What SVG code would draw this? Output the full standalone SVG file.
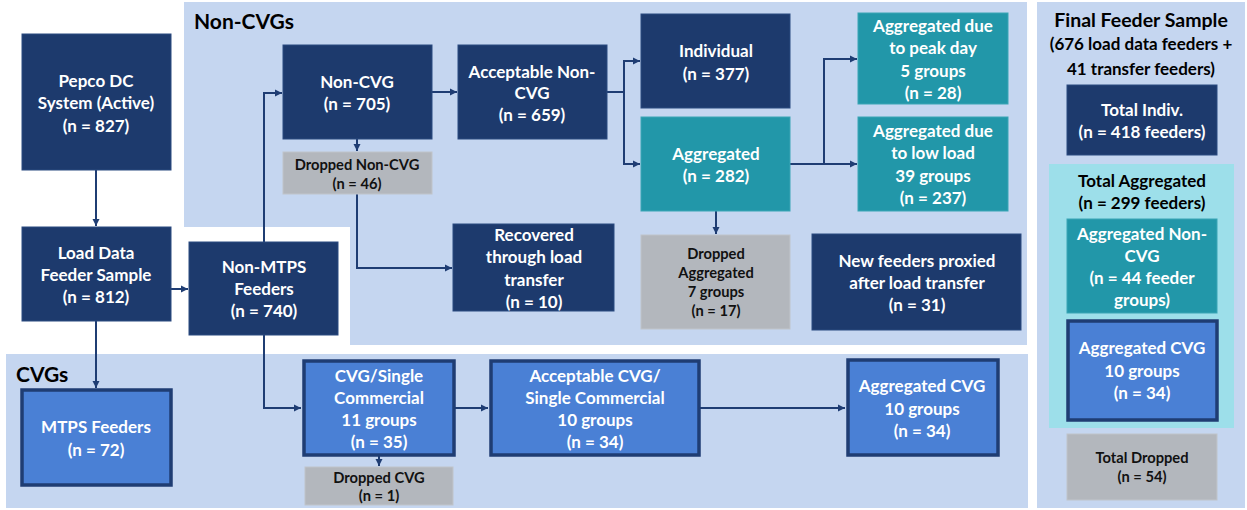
<svg xmlns="http://www.w3.org/2000/svg" width="1247" height="510" viewBox="0 0 1247 510">
<defs>
<marker id="ah" markerWidth="8" markerHeight="8" refX="7" refY="4" orient="auto" markerUnits="userSpaceOnUse">
<path d="M0,0.5 L7,4 L0,7.5 Z" fill="#1f3d73"/>
</marker>
<style>
.panel{fill:#c5d6f0}
.dark{fill:#1d3a6d;stroke:#2b4a80;stroke-width:1}
.teal{fill:#2297a9;stroke:#3aa5b5;stroke-width:1}
.blue{fill:#4a80d5;stroke:#1f3d73;stroke-width:3.5}
.gray{fill:#b3b7bd;stroke:#c0c4ca;stroke-width:1}
text{font-family:Lato,"Liberation Sans",sans-serif;font-weight:bold;text-anchor:middle}
.w{fill:#ffffff;font-size:17px}
.g{fill:#111111;font-size:14.7px}
.k{fill:#000000;font-size:17px}
.sec{fill:#000000;font-size:21px;text-anchor:start}
.c{fill:none;stroke:#1f3d73;stroke-width:2}
</style>
</defs>
<rect x="0" y="0" width="1247" height="510" fill="#ffffff"/>
<g id="panels">
<rect class="panel" x="184" y="2" width="843" height="343"/>
<rect x="171" y="227" width="179" height="123" fill="#ffffff"/>
<rect class="panel" x="6" y="354" width="1022" height="154"/>
<rect class="panel" x="1037" y="2" width="208" height="506"/>
<rect x="1049" y="164" width="185" height="264" fill="#9ddfea"/>
<text class="sec" x="194" y="29">Non-CVGs</text>
<text class="sec" x="16" y="382">CVGs</text>
</g>
<g id="connectors">
<path class="c" d="M96,170 V226" marker-end="url(#ah)"/>
<path class="c" d="M171,289 H188" marker-end="url(#ah)"/>
<path class="c" d="M96,321 V388" marker-end="url(#ah)"/>
<path class="c" d="M264,242 V93 H282" marker-end="url(#ah)"/>
<path class="c" d="M264,335 V408 H301" marker-end="url(#ah)"/>
<path class="c" d="M357,139 V151" marker-end="url(#ah)"/>
<path class="c" d="M357,194 V268 H452" marker-end="url(#ah)"/>
<path class="c" d="M432,92 H457" marker-end="url(#ah)"/>
<path class="c" d="M607,92 H624 V61 H640" marker-end="url(#ah)"/>
<path class="c" d="M624,92 V164 H640" marker-end="url(#ah)"/>
<path class="c" d="M790,164 H857" marker-end="url(#ah)"/>
<path class="c" d="M824,164 V59 H857" marker-end="url(#ah)"/>
<path class="c" d="M716,211 V234" marker-end="url(#ah)"/>
<path class="c" d="M379,456 V466" marker-end="url(#ah)"/>
<path class="c" d="M455,408 H488" marker-end="url(#ah)"/>
<path class="c" d="M700,408 H845" marker-end="url(#ah)"/>
</g>
<g id="pepco">
<rect class="dark" x="22" y="34" width="149" height="136"/>
<text class="w" x="96" y="87">Pepco DC</text>
<text class="w" x="96" y="109">System (Active)</text>
<text class="w" x="96" y="132">(n = 827)</text>
</g>
<g id="loaddata">
<rect class="dark" x="22" y="227" width="149" height="94"/>
<text class="w" x="96" y="259">Load Data</text>
<text class="w" x="96" y="281">Feeder Sample</text>
<text class="w" x="96" y="303">(n = 812)</text>
</g>
<g id="nonmtps">
<rect class="dark" x="189" y="242" width="149" height="93"/>
<text class="w" x="264" y="273">Non-MTPS</text>
<text class="w" x="264" y="295">Feeders</text>
<text class="w" x="264" y="317">(n = 740)</text>
</g>
<g id="mtps">
<rect class="blue" x="22" y="390" width="149" height="95"/>
<text class="w" x="96" y="433">MTPS Feeders</text>
<text class="w" x="96" y="456">(n = 72)</text>
</g>
<g id="cvgsingle">
<rect class="blue" x="304" y="361" width="150" height="94"/>
<text class="w" x="379" y="382">CVG/Single</text>
<text class="w" x="379" y="404">Commercial</text>
<text class="w" x="379" y="426">11 groups</text>
<text class="w" x="379" y="448">(n = 35)</text>
</g>
<g id="droppedcvg">
<rect class="gray" x="305" y="467" width="148" height="38"/>
<text class="g" x="379" y="483">Dropped CVG</text>
<text class="g" x="379" y="501">(n = 1)</text>
</g>
<g id="noncvg">
<rect class="dark" x="283" y="45" width="149" height="94"/>
<text class="w" x="357" y="88">Non-CVG</text>
<text class="w" x="357" y="110">(n = 705)</text>
</g>
<g id="droppednoncvg">
<rect class="gray" x="283" y="152" width="149" height="42"/>
<text class="g" x="357" y="170">Dropped Non-CVG</text>
<text class="g" x="357" y="189">(n = 46)</text>
</g>
<g id="acceptablenoncvg">
<rect class="dark" x="458" y="45" width="149" height="94"/>
<text class="w" x="532" y="78">Acceptable Non-</text>
<text class="w" x="532" y="99">CVG</text>
<text class="w" x="532" y="121">(n = 659)</text>
</g>
<g id="individual">
<rect class="dark" x="641" y="14" width="149" height="94"/>
<text class="w" x="716" y="57">Individual</text>
<text class="w" x="716" y="80">(n = 377)</text>
</g>
<g id="aggregated">
<rect class="teal" x="641" y="117" width="149" height="94"/>
<text class="w" x="716" y="160">Aggregated</text>
<text class="w" x="716" y="182">(n = 282)</text>
</g>
<g id="peakday">
<rect class="teal" x="858" y="13" width="150" height="91"/>
<text class="w" x="933" y="32">Aggregated due</text>
<text class="w" x="933" y="54">to peak day</text>
<text class="w" x="933" y="77">5 groups</text>
<text class="w" x="933" y="99">(n = 28)</text>
</g>
<g id="lowload">
<rect class="teal" x="858" y="117" width="150" height="94"/>
<text class="w" x="933" y="137">Aggregated due</text>
<text class="w" x="933" y="159">to low load</text>
<text class="w" x="933" y="182">39 groups</text>
<text class="w" x="933" y="204">(n = 237)</text>
</g>
<g id="recovered">
<rect class="dark" x="453" y="224" width="161" height="87"/>
<text class="w" x="534" y="241">Recovered</text>
<text class="w" x="534" y="263">through load</text>
<text class="w" x="534" y="286">transfer</text>
<text class="w" x="534" y="308">(n = 10)</text>
</g>
<g id="droppedagg">
<rect class="gray" x="641" y="235" width="149" height="94"/>
<text class="g" x="716" y="259">Dropped</text>
<text class="g" x="716" y="278">Aggregated</text>
<text class="g" x="716" y="297">7 groups</text>
<text class="g" x="716" y="316">(n = 17)</text>
</g>
<g id="newfeeders">
<rect class="dark" x="812" y="234" width="209" height="96"/>
<text class="w" x="917" y="267">New feeders proxied</text>
<text class="w" x="917" y="289">after load transfer</text>
<text class="w" x="917" y="311">(n = 31)</text>
</g>
<g id="acceptablecvg">
<rect class="blue" x="491" y="361" width="208" height="94"/>
<text class="w" x="595" y="382">Acceptable CVG/</text>
<text class="w" x="595" y="404">Single Commercial</text>
<text class="w" x="595" y="426">10 groups</text>
<text class="w" x="595" y="448">(n = 34)</text>
</g>
<g id="aggcvg">
<rect class="blue" x="848" y="360" width="150" height="95"/>
<text class="w" x="922" y="392">Aggregated CVG</text>
<text class="w" x="922" y="415">10 groups</text>
<text class="w" x="922" y="437">(n = 34)</text>
</g>
<g id="final">
<text class="k" x="1141" y="27" style="font-size:19.5px">Final Feeder Sample</text>
<text class="k" x="1141" y="50">(676 load data feeders +</text>
<text class="k" x="1141" y="75">41 transfer feeders)</text>
</g>
<g id="totalindiv">
<rect class="dark" x="1067" y="85" width="150" height="70"/>
<text class="w" x="1142" y="116">Total Indiv.</text>
<text class="w" x="1142" y="138">(n = 418 feeders)</text>
</g>
<g id="totalagg">
<text class="k" x="1142" y="187">Total Aggregated</text>
<text class="k" x="1142" y="209">(n = 299 feeders)</text>
</g>
<g id="aggnoncvg">
<rect class="teal" x="1067" y="219" width="150" height="94"/>
<text class="w" x="1142" y="240">Aggregated Non-</text>
<text class="w" x="1142" y="262">CVG</text>
<text class="w" x="1142" y="284">(n = 44 feeder</text>
<text class="w" x="1142" y="306">groups)</text>
</g>
<g id="aggcvgfinal">
<rect class="blue" x="1068" y="321" width="149" height="99"/>
<text class="w" x="1142" y="354">Aggregated CVG</text>
<text class="w" x="1142" y="377">10 groups</text>
<text class="w" x="1142" y="399">(n = 34)</text>
</g>
<g id="totaldropped">
<rect class="gray" x="1067" y="434" width="150" height="66"/>
<text class="g" x="1142" y="463">Total Dropped</text>
<text class="g" x="1142" y="482">(n = 54)</text>
</g>
</svg>
